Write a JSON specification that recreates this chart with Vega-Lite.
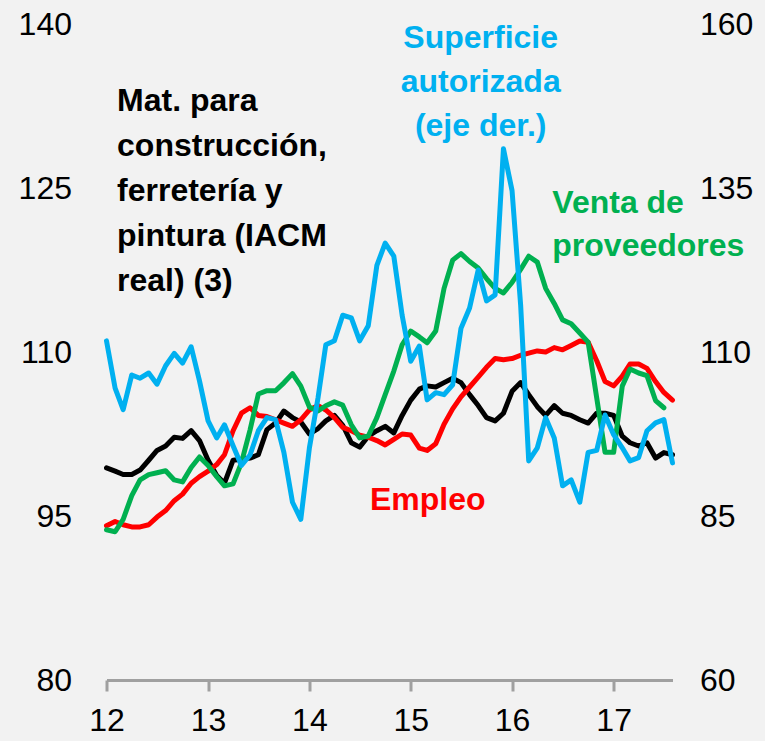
{
  "$schema": "https://vega.github.io/schema/vega-lite/v6.json",
  "width": 566,
  "height": 656,
  "autosize": {"type": "none"},
  "padding": {"left": 106.5, "top": 24, "right": 92.5, "bottom": 61},
  "background": "#f2f2f2",
  "config": {
    "view": {"stroke": null},
    "font": "Liberation Sans",
    "axis": {"labelFont": "Liberation Sans", "labelFontSize": 32, "labelColor": "#000000", "grid": false}
  },
  "data": {
    "values": [
      {"d": "2012-01-01", "mat": 99.4, "emp": 94.1, "sup": 111.7, "ven": 82.9},
      {"d": "2012-02-01", "mat": 99.1, "emp": 94.5, "sup": 104.5, "ven": 82.6},
      {"d": "2012-03-01", "mat": 98.8, "emp": 94.2, "sup": 101.2, "ven": 84.5},
      {"d": "2012-04-01", "mat": 98.8, "emp": 94.0, "sup": 106.5, "ven": 88.1},
      {"d": "2012-05-01", "mat": 99.2, "emp": 94.0, "sup": 106.0, "ven": 90.5},
      {"d": "2012-06-01", "mat": 100.1, "emp": 94.2, "sup": 106.8, "ven": 91.3},
      {"d": "2012-07-01", "mat": 101.0, "emp": 94.9, "sup": 105.1, "ven": 91.6},
      {"d": "2012-08-01", "mat": 101.4, "emp": 95.5, "sup": 107.9, "ven": 91.9},
      {"d": "2012-09-01", "mat": 102.2, "emp": 96.4, "sup": 109.8, "ven": 90.5},
      {"d": "2012-10-01", "mat": 102.1, "emp": 97.0, "sup": 108.3, "ven": 90.2},
      {"d": "2012-11-01", "mat": 102.8, "emp": 98.0, "sup": 110.8, "ven": 92.4},
      {"d": "2012-12-01", "mat": 101.9, "emp": 98.6, "sup": 105.6, "ven": 94.0},
      {"d": "2013-01-01", "mat": 100.1, "emp": 99.1, "sup": 99.5, "ven": 92.7},
      {"d": "2013-02-01", "mat": 98.7, "emp": 99.7, "sup": 96.9, "ven": 91.0},
      {"d": "2013-03-01", "mat": 98.0, "emp": 100.6, "sup": 98.9, "ven": 89.6},
      {"d": "2013-04-01", "mat": 100.1, "emp": 102.8, "sup": 95.7, "ven": 89.9},
      {"d": "2013-05-01", "mat": 100.2, "emp": 104.4, "sup": 92.7, "ven": 93.1},
      {"d": "2013-06-01", "mat": 100.3, "emp": 104.9, "sup": 94.3, "ven": 98.1},
      {"d": "2013-07-01", "mat": 100.6, "emp": 104.2, "sup": 98.0, "ven": 103.6},
      {"d": "2013-08-01", "mat": 102.9, "emp": 104.1, "sup": 100.0, "ven": 104.1},
      {"d": "2013-09-01", "mat": 103.5, "emp": 103.8, "sup": 99.7, "ven": 104.1},
      {"d": "2013-10-01", "mat": 104.6, "emp": 103.5, "sup": 94.7, "ven": 105.3},
      {"d": "2013-11-01", "mat": 104.0, "emp": 103.2, "sup": 87.1, "ven": 106.7},
      {"d": "2013-12-01", "mat": 103.6, "emp": 103.8, "sup": 84.5, "ven": 104.8},
      {"d": "2014-01-01", "mat": 102.5, "emp": 104.7, "sup": 95.4, "ven": 101.6},
      {"d": "2014-02-01", "mat": 103.0, "emp": 105.1, "sup": 103.0, "ven": 101.0},
      {"d": "2014-03-01", "mat": 103.7, "emp": 104.7, "sup": 111.1, "ven": 101.8},
      {"d": "2014-04-01", "mat": 104.2, "emp": 104.0, "sup": 111.7, "ven": 102.4},
      {"d": "2014-05-01", "mat": 103.3, "emp": 103.1, "sup": 115.6, "ven": 101.9},
      {"d": "2014-06-01", "mat": 101.7, "emp": 102.8, "sup": 115.2, "ven": 98.9},
      {"d": "2014-07-01", "mat": 101.3, "emp": 102.4, "sup": 111.7, "ven": 96.9},
      {"d": "2014-08-01", "mat": 102.3, "emp": 102.2, "sup": 114.0, "ven": 97.2},
      {"d": "2014-09-01", "mat": 102.8, "emp": 101.9, "sup": 123.2, "ven": 100.0},
      {"d": "2014-10-01", "mat": 103.2, "emp": 101.5, "sup": 126.6, "ven": 103.5},
      {"d": "2014-11-01", "mat": 102.6, "emp": 102.0, "sup": 124.6, "ven": 107.1},
      {"d": "2014-12-01", "mat": 104.2, "emp": 102.5, "sup": 115.6, "ven": 111.1},
      {"d": "2015-01-01", "mat": 105.6, "emp": 102.4, "sup": 108.6, "ven": 113.2},
      {"d": "2015-02-01", "mat": 106.6, "emp": 101.2, "sup": 110.9, "ven": 112.3},
      {"d": "2015-03-01", "mat": 106.9, "emp": 101.0, "sup": 102.7, "ven": 111.4},
      {"d": "2015-04-01", "mat": 106.8, "emp": 101.6, "sup": 103.8, "ven": 113.2},
      {"d": "2015-05-01", "mat": 107.2, "emp": 103.4, "sup": 103.5, "ven": 119.7},
      {"d": "2015-06-01", "mat": 107.6, "emp": 104.8, "sup": 105.0, "ven": 124.0},
      {"d": "2015-07-01", "mat": 107.2, "emp": 105.9, "sup": 113.6, "ven": 125.0},
      {"d": "2015-08-01", "mat": 106.1, "emp": 106.8, "sup": 116.7, "ven": 123.8},
      {"d": "2015-09-01", "mat": 105.1, "emp": 107.7, "sup": 122.5, "ven": 122.8},
      {"d": "2015-10-01", "mat": 104.0, "emp": 108.6, "sup": 117.8, "ven": 121.2},
      {"d": "2015-11-01", "mat": 103.7, "emp": 109.4, "sup": 118.7, "ven": 119.7},
      {"d": "2015-12-01", "mat": 104.4, "emp": 109.3, "sup": 141.0, "ven": 119.0},
      {"d": "2016-01-01", "mat": 106.4, "emp": 109.4, "sup": 134.6, "ven": 120.6},
      {"d": "2016-02-01", "mat": 107.2, "emp": 109.7, "sup": 117.1, "ven": 122.6},
      {"d": "2016-03-01", "mat": 106.1, "emp": 109.9, "sup": 93.4, "ven": 124.6},
      {"d": "2016-04-01", "mat": 105.0, "emp": 110.1, "sup": 95.4, "ven": 123.7},
      {"d": "2016-05-01", "mat": 104.2, "emp": 110.0, "sup": 100.0, "ven": 119.7},
      {"d": "2016-06-01", "mat": 105.1, "emp": 110.4, "sup": 96.9, "ven": 117.4},
      {"d": "2016-07-01", "mat": 104.4, "emp": 110.2, "sup": 89.6, "ven": 114.9},
      {"d": "2016-08-01", "mat": 104.2, "emp": 110.6, "sup": 90.5, "ven": 114.3},
      {"d": "2016-09-01", "mat": 103.8, "emp": 111.0, "sup": 87.1, "ven": 112.9},
      {"d": "2016-10-01", "mat": 103.5, "emp": 110.9, "sup": 94.7, "ven": 111.5},
      {"d": "2016-11-01", "mat": 104.4, "emp": 109.2, "sup": 95.0, "ven": 103.0},
      {"d": "2016-12-01", "mat": 104.4, "emp": 107.3, "sup": 100.4, "ven": 94.7},
      {"d": "2017-01-01", "mat": 104.2, "emp": 106.9, "sup": 97.4, "ven": 94.7},
      {"d": "2017-02-01", "mat": 102.3, "emp": 107.8, "sup": 95.4, "ven": 104.8},
      {"d": "2017-03-01", "mat": 101.7, "emp": 108.9, "sup": 93.4, "ven": 107.4},
      {"d": "2017-04-01", "mat": 101.4, "emp": 108.9, "sup": 93.9, "ven": 106.8},
      {"d": "2017-05-01", "mat": 101.7, "emp": 108.5, "sup": 98.0, "ven": 106.4},
      {"d": "2017-06-01", "mat": 100.3, "emp": 107.3, "sup": 99.2, "ven": 102.6},
      {"d": "2017-07-01", "mat": 100.8, "emp": 106.3, "sup": 99.7, "ven": 101.5},
      {"d": "2017-08-01", "mat": 100.6, "emp": 105.6, "sup": 93.1, "ven": null}
    ]
  },
  "encoding": {
    "x": {
      "field": "d",
      "type": "temporal",
      "title": null,
      "scale": {"type": "utc", "domain": ["2012-01-01", "2017-08-01"], "nice": false},
      "axis": {
        "values": [
          {"year": 2012, "month": 1, "date": 1, "utc": true},
          {"year": 2013, "month": 1, "date": 1, "utc": true},
          {"year": 2014, "month": 1, "date": 1, "utc": true},
          {"year": 2015, "month": 1, "date": 1, "utc": true},
          {"year": 2016, "month": 1, "date": 1, "utc": true},
          {"year": 2017, "month": 1, "date": 1, "utc": true}
        ],
        "format": "%y",
        "domainColor": "#a0a0a0",
        "domainWidth": 3,
        "tickColor": "#a0a0a0",
        "tickWidth": 3,
        "tickSize": 11,
        "labelPadding": 14,
        "labelFlush": false,
        "labelOverlap": false
      }
    }
  },
  "layer": [
    {
      "encoding": {
        "y": {
          "field": "v",
          "type": "quantitative",
          "title": null,
          "scale": {"domain": [80, 140], "nice": false, "zero": false},
          "axis": {"orient": "left", "values": [80, 95, 110, 125, 140], "domain": false, "ticks": false, "labelPadding": 35}
        }
      },
      "layer": [
        {
          "transform": [{"fold": ["mat", "emp"], "as": ["k", "v"]}],
          "mark": {"type": "line", "strokeWidth": 5, "strokeJoin": "round", "strokeCap": "round"},
          "encoding": {
            "color": {"field": "k", "type": "nominal", "scale": {"domain": ["mat", "emp", "sup", "ven"], "range": ["#000000", "#ff0000", "#00b0f0", "#00b050"]}, "legend": null}
          }
        },
        {
          "data": {"values": [
            {"d": "2012-02-08", "v": 133.0, "k": "mat", "t": "Mat. para\nconstrucción,\nferretería y\npintura (IACM\nreal) (3)"},
            {"d": "2014-08-07", "v": 96.5, "k": "emp", "t": "Empleo"}
          ]},
          "mark": {"type": "text", "align": "left", "baseline": "middle", "fontWeight": "bold", "fontSize": 32, "lineHeight": 45, "lineBreak": "\n", "font": "Liberation Sans"},
          "encoding": {
            "text": {"field": "t"},
            "color": {"field": "k", "type": "nominal", "scale": {"domain": ["mat", "emp", "sup", "ven"], "range": ["#000000", "#ff0000", "#00b0f0", "#00b050"]}, "legend": null}
          }
        }
      ]
    },
    {
      "encoding": {
        "y": {
          "field": "v",
          "type": "quantitative",
          "title": null,
          "scale": {"domain": [60, 160], "nice": false, "zero": false},
          "axis": {"orient": "right", "values": [60, 85, 110, 135, 160], "domain": false, "ticks": false, "labelPadding": 27}
        }
      },
      "layer": [
        {
          "transform": [{"fold": ["ven", "sup"], "as": ["k", "v"]}],
          "mark": {"type": "line", "strokeWidth": 5, "strokeJoin": "round", "strokeCap": "round"},
          "encoding": {
            "color": {"field": "k", "type": "nominal", "scale": {"domain": ["mat", "emp", "sup", "ven"], "range": ["#000000", "#ff0000", "#00b0f0", "#00b050"]}, "legend": null}
          }
        },
        {
          "data": {"values": [
            {"d": "2015-09-10", "v": 157.9, "k": "sup", "t": "Superficie\nautorizada\n(eje der.)"}
          ]},
          "mark": {"type": "text", "align": "center", "baseline": "middle", "fontWeight": "bold", "fontSize": 32, "lineHeight": 44, "lineBreak": "\n", "font": "Liberation Sans"},
          "encoding": {
            "text": {"field": "t"},
            "color": {"field": "k", "type": "nominal", "scale": {"domain": ["mat", "emp", "sup", "ven"], "range": ["#000000", "#ff0000", "#00b0f0", "#00b050"]}, "legend": null}
          }
        },
        {
          "data": {"values": [
            {"d": "2016-05-25", "v": 132.7, "k": "ven", "t": "Venta de\nproveedores"}
          ]},
          "mark": {"type": "text", "align": "left", "baseline": "middle", "fontWeight": "bold", "fontSize": 32, "lineHeight": 43, "lineBreak": "\n", "font": "Liberation Sans"},
          "encoding": {
            "text": {"field": "t"},
            "color": {"field": "k", "type": "nominal", "scale": {"domain": ["mat", "emp", "sup", "ven"], "range": ["#000000", "#ff0000", "#00b0f0", "#00b050"]}, "legend": null}
          }
        }
      ]
    }
  ],
  "resolve": {"scale": {"y": "independent"}}
}
